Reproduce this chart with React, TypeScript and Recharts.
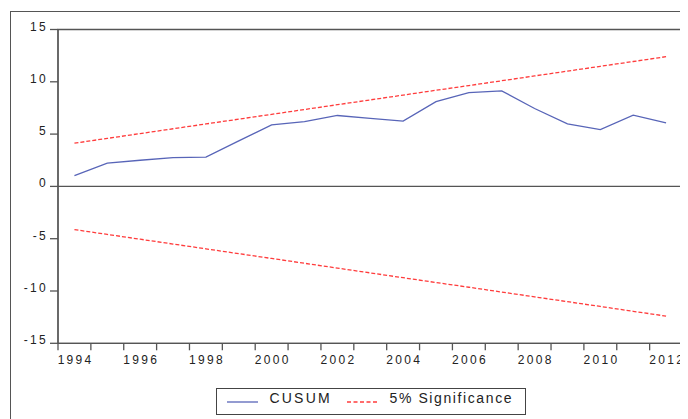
import React from 'react';
import { LineChart, Line, XAxis, YAxis, ReferenceLine, ReferenceArea, Legend } from 'recharts';

const years = [1994, 1995, 1996, 1997, 1998, 1999, 2000, 2001, 2002, 2003, 2004, 2005, 2006, 2007, 2008, 2009, 2010, 2011, 2012];
const cusum = [1.03, 2.22, 2.5, 2.75, 2.8, 4.35, 5.88, 6.2, 6.78, 6.5, 6.24, 8.1, 8.97, 9.13, 7.45, 5.98, 5.43, 6.82, 6.08];
const upper = [4.13, 4.59, 5.05, 5.51, 5.97, 6.43, 6.89, 7.35, 7.81, 8.27, 8.73, 9.19, 9.64, 10.1, 10.56, 11.02, 11.48, 11.94, 12.4];
const lower = [-4.13, -4.59, -5.05, -5.51, -5.97, -6.43, -6.89, -7.35, -7.81, -8.27, -8.73, -9.19, -9.64, -10.1, -10.56, -11.02, -11.48, -11.94, -12.4];
const yTicks = [-15, -10, -5, 0, 5, 10, 15];
const yearBoundaries = [1993.5, 1994.5, 1995.5, 1996.5, 1997.5, 1998.5, 1999.5, 2000.5, 2001.5, 2002.5, 2003.5, 2004.5, 2005.5, 2006.5, 2007.5, 2008.5, 2009.5, 2010.5, 2011.5, 2012.5];
const yearLabelTicks = [1994, 1996, 1998, 2000, 2002, 2004, 2006, 2008, 2010, 2012];
const seriesNames = ['CUSUM', '5% Significance'];

const data = years.map((yr, i) => ({ year: yr, cusum: cusum[i], upper: upper[i], lower: lower[i] }));

const FONT = '"Liberation Sans", Arial, sans-serif';
const TXT = '#222';
const AX = '#555';
const BLUE = '#5865b8';
const RED = '#ff3c3c';
const LS = 2.3;

const YTick = (props: any) => {
  const { x, y, payload } = props;
  return (
    <text x={x} y={y + 1} textAnchor="end" fontFamily={FONT} fontSize={12} letterSpacing={LS} fill={TXT}>
      {payload.value}
    </text>
  );
};

const XLabelTick = (props: any) => {
  const { x, y, payload } = props;
  return (
    <text x={x + LS / 2} y={y} textAnchor="middle" fontFamily={FONT} fontSize={12} letterSpacing={LS} fill={TXT}>
      {payload.value}
    </text>
  );
};

const EmptyTick = () => <g />;

const LegendBox = () => (
  <svg width={311} height={27} style={{ display: 'block' }}>
    <rect x={0.5} y={0.5} width={309} height={26} fill="#fff" stroke="#444" strokeWidth={1} />
    <line x1={11} x2={42} y1={14} y2={14} stroke={BLUE} strokeWidth={1.3} />
    <text x={53.5} y={15} fontFamily={FONT} fontSize={14} letterSpacing={2.2} fill={TXT}>{seriesNames[0]}</text>
    <line x1={131} x2={161} y1={14} y2={14} stroke={RED} strokeWidth={1.3} strokeDasharray="4 2.5" />
    <text x={173.5} y={15} fontFamily={FONT} fontSize={14} letterSpacing={1.6} fill={TXT}>{seriesNames[1]}</text>
  </svg>
);

export default function App() {
  return (
    <div style={{ position: 'relative', width: 680, height: 411, overflow: 'hidden', background: '#fff' }}>
      <div style={{ position: 'absolute', left: 2, top: 3, width: 800, height: 600, border: '1px solid #555', boxSizing: 'border-box' }} />
      <LineChart
        width={680}
        height={411}
        data={data}
        margin={{ top: 21.5, right: 5.5, left: 0, bottom: 73.7 }}
        style={{ position: 'absolute', left: 0, top: 0 }}
      >
        <XAxis
          xAxisId="b"
          dataKey="year"
          type="number"
          domain={[1993.5, 2012.5]}
          ticks={yearBoundaries}
          interval={0}
          height={1}
          tick={<EmptyTick />}
          tickSize={7}
          stroke={AX}
          strokeWidth={1.3}
          tickLine
          axisLine
          allowDataOverflow
        />
        <XAxis
          xAxisId="l"
          dataKey="year"
          type="number"
          domain={[1993.5, 2012.5]}
          ticks={yearLabelTicks}
          interval={0}
          height={1}
          tickSize={0}
          tickMargin={19.5}
          tickLine={false}
          axisLine={false}
          tick={<XLabelTick />}
          allowDataOverflow
        />
        <YAxis
          type="number"
          domain={[-15, 15]}
          ticks={yTicks}
          interval={0}
          width={50}
          tickSize={8}
          tickMargin={2}
          stroke={AX}
          strokeWidth={1.3}
          tick={<YTick />}
          tickLine
          axisLine
          allowDataOverflow
        />
        <ReferenceArea
          xAxisId="b"
          x1={1993.5}
          x2={2012.5}
          y1={-15}
          y2={15}
          fill="none"
          fillOpacity={0}
          stroke={AX}
          strokeWidth={1.3}
          ifOverflow="visible"
        />
        <ReferenceLine xAxisId="b" y={0} stroke={AX} strokeWidth={1.3} />
        <Line xAxisId="b" dataKey="cusum" stroke={BLUE} strokeWidth={1.3} dot={false} isAnimationActive={false} />
        <Line xAxisId="b" dataKey="upper" stroke={RED} strokeWidth={1.3} strokeDasharray="4 2" dot={false} isAnimationActive={false} />
        <Line xAxisId="b" dataKey="lower" stroke={RED} strokeWidth={1.3} strokeDasharray="4 2" dot={false} isAnimationActive={false} />
        <Legend
          layout="horizontal"
          verticalAlign="middle"
          align="center"
          wrapperStyle={{ position: 'absolute', left: 207.7, top: 380.3, width: 311, height: 27, margin: 0, padding: 0 }}
          content={() => <LegendBox />}
        />
      </LineChart>
    </div>
  );
}
